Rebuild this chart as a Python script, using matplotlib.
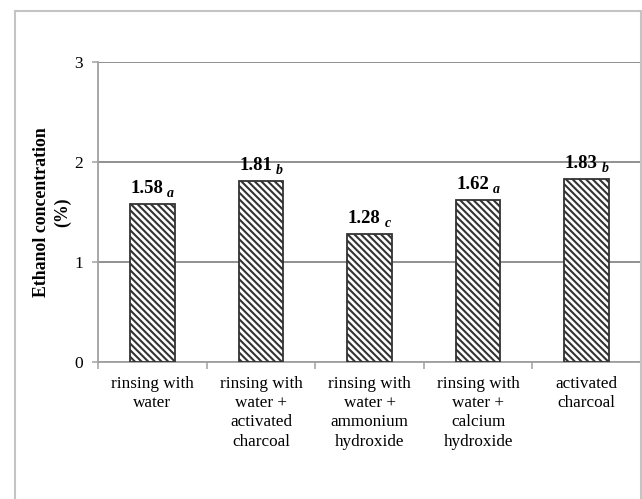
import matplotlib.pyplot as plt
from matplotlib.patches import Rectangle

plt.rcParams['font.family'] = ['Liberation Serif', 'DejaVu Serif']
plt.rcParams['hatch.linewidth'] = 1.5
plt.rcParams['hatch.color'] = 'black'

categories = ['rinsing with\nwater',
              'rinsing with\nwater +\nactivated\ncharcoal',
              'rinsing with\nwater +\nammonium\nhydroxide',
              'rinsing with\nwater +\ncalcium\nhydroxide',
              'activated\ncharcoal']
values = [1.58, 1.81, 1.28, 1.62, 1.83]
letters = ['a', 'b', 'c', 'a', 'b']
y_ticks = [0, 1, 2, 3]

fig = plt.figure(figsize=(6.42, 4.99), dpi=100)
ax = fig.add_axes([98 / 642, 1 - 362 / 499, 543 / 642, 300 / 499])

# outer frame
fig.patches.append(Rectangle((15 / 642, -0.1), 626 / 642, 1.1 - 11 / 499,
                             transform=fig.transFigure, fill=False,
                             edgecolor='#c4c4c4', linewidth=1.5))

x = range(len(values))
ax.bar(x, values, width=0.41, color='white', edgecolor='#333333',
       linewidth=1.3, hatch='\\\\\\\\\\', zorder=3)

for i, (v, l) in enumerate(zip(values, letters)):
    ax.annotate(f'{v:.2f}', (i, v), xytext=(11, 11), textcoords='offset pixels',
                ha='right', va='baseline', fontsize=13.5, fontweight='bold')
    ax.annotate(l, (i, v), xytext=(15, 7), textcoords='offset pixels',
                ha='left', va='baseline', fontsize=10, fontweight='bold',
                fontstyle='italic')

ax.set_xlim(-0.5, 4.5)
ax.set_ylim(0, 3)
ax.set_yticks(y_ticks)
ax.set_yticklabels([str(t) for t in y_ticks], fontsize=12.5)
ax.yaxis.grid(True, color='#888888', linewidth=1.3)
ax.set_axisbelow(True)

ax.set_xticks([i + 0.5 for i in range(-1, 5)])
ax.set_xticklabels([])
ax.set_xticks(list(x), minor=True)
ax.set_xticklabels(categories, minor=True, fontsize=12.3, linespacing=1.27,
                   va='top')
ax.tick_params(axis='x', which='minor', length=0, pad=10)
ax.tick_params(axis='x', which='major', length=5, color='#a0a0a0', width=1.1)
ax.tick_params(axis='y', length=4, color='#a0a0a0', width=1.1, pad=7)

for s in ['top', 'right']:
    ax.spines[s].set_visible(False)
for s in ['left', 'bottom']:
    ax.spines[s].set_color('#a0a0a0')
    ax.spines[s].set_linewidth(1.3)

ax.set_ylabel('Ethanol concentration\n(%)', fontsize=12.8, fontweight='bold',
              linespacing=1.3)
ax.yaxis.set_label_coords(-27 / 543, 0.5)

fig.savefig('out.png', dpi=100)
